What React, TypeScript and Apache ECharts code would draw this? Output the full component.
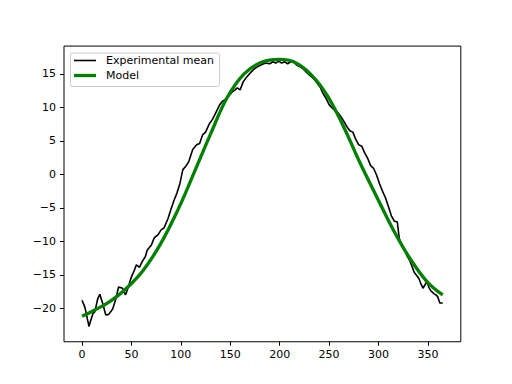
import React, { useEffect, useRef } from "react";
import * as echarts from "echarts";

const expDays = [0,3,7,9,11,13,16,18,21,24,27,31,34,37,41,44,46,50,53,55,58,61,64,66,70,73,77,80,83,87,90,93,96,99,102,105,108,112,116,119,122,125,129,132,136,139,142,146,149,152,155,157,160,163,166,170,174,178,182,186,190,193,196,199,202,205,208,211,214,217,220,224,228,231,235,238,241,244,247,250,253,256,259,262,265,268,271,274,277,280,283,286,289,292,295,298,301,304,307,310,313,316,319,321,323,326,329,332,334,336,338,341,343,345,347,349,351,353,356,358,360,362,365];
const expValues = [-18.8,-19.9,-22.7,-21.7,-20.8,-20.5,-18.5,-17.9,-19.3,-21.0,-20.9,-20.1,-18.7,-16.8,-17.0,-18.0,-17.2,-15.3,-14.3,-13.5,-13.9,-13.0,-12.3,-11.3,-10.6,-9.5,-9.0,-8.3,-8.0,-6.6,-5.2,-3.9,-2.8,-1.4,0.7,1.2,1.9,3.7,4.4,4.6,5.9,6.3,7.6,8.2,9.4,10.3,10.9,11.3,11.8,12.3,12.6,12.9,12.6,13.8,14.4,15.1,15.7,16.1,16.4,16.6,16.5,16.8,16.6,16.9,16.6,16.8,16.5,16.8,16.9,16.3,16.1,15.7,15.1,14.7,14.2,13.6,13.0,12.0,11.3,10.4,9.9,9.5,9.2,8.6,7.9,7.1,6.5,6.3,5.2,4.4,4.2,3.2,2.4,1.3,0.9,-0.1,-1.4,-2.5,-3.5,-4.8,-6.2,-7.0,-7.1,-9.6,-10.3,-11.2,-12.2,-13.0,-13.8,-14.6,-15.0,-15.6,-16.4,-17.0,-16.5,-16.0,-16.9,-17.4,-17.8,-18.0,-18.3,-19.2,-19.2];

const modelDays = [0,11,28,45,62,79,97,113,130,147,164,181,200,214,231,248,265,281,298,315,332,349,365];
const modelValues = [-21.2,-20.4,-19.0,-17.0,-14.3,-10.5,-5.3,0.1,6.0,11.5,15.0,16.7,17.15,16.8,15.0,11.8,7.0,1.8,-3.3,-8.3,-12.6,-16.0,-18.0];

const xTicks = [0,50,100,150,200,250,300,350];
const yTicks = [-20,-15,-10,-5,0,5,10,15];
const legendLabels = ["Experimental mean", "Model"];

const FONT = "DejaVu Sans";

export default function App() {
  const ref = useRef<HTMLDivElement>(null);
  useEffect(() => {
    if (!ref.current) return;
    const chart = echarts.init(ref.current, undefined, { renderer: "svg" });
    const fmt = (v: number) => (v < 0 ? "\u2212" + Math.abs(v) : String(v));
    chart.setOption({
      animation: false,
      backgroundColor: "#fff",
      grid: {
        left: 64, right: 51.2, top: 46.08, bottom: 42.24,
        show: true, borderColor: "#000", borderWidth: 1, backgroundColor: "transparent",
      },
      xAxis: {
        type: "value", min: -18.25, max: 383.25,
        splitLine: { show: false },
        axisLine: { show: false, onZero: false },
        axisTick: { show: true, inside: false, length: 4, customValues: xTicks, lineStyle: { color: "#000", width: 1 } },
        axisLabel: { show: true, margin: 7, customValues: xTicks, formatter: fmt, color: "#000", fontFamily: FONT, fontSize: 11 },
      },
      yAxis: {
        type: "value", min: -24.99, max: 19.14,
        splitLine: { show: false },
        axisLine: { show: false, onZero: false },
        axisTick: { show: true, inside: false, length: 4, customValues: yTicks, lineStyle: { color: "#000", width: 1 } },
        axisLabel: { show: true, margin: 8, customValues: yTicks, formatter: fmt, color: "#000", fontFamily: FONT, fontSize: 11 },
      },
      series: [
        {
          name: legendLabels[0], type: "line", showSymbol: false,
          data: expDays.map((d, i) => [d, expValues[i]]),
          lineStyle: { color: "#000", width: 1.6 }, z: 2,
        },
        {
          name: legendLabels[1], type: "line", showSymbol: false, smooth: 0.4,
          data: modelDays.map((d, i) => [d, modelValues[i]]),
          lineStyle: { color: "#008000", width: 3.3 }, z: 3,
        },
      ],
      graphic: [
        {
          type: "group", left: 70, top: 52.5, z: 100,
          children: [
            { type: "rect", shape: { x: 0, y: 0, width: 149, height: 33.5, r: 2 }, style: { fill: "rgba(255,255,255,0.8)", stroke: "#cccccc", lineWidth: 1 } },
            { type: "line", shape: { x1: 3.5, y1: 7.5, x2: 25.5, y2: 7.5 }, style: { stroke: "#000", lineWidth: 1.6 } },
            { type: "text", x: 35.5, y: 7.5, style: { text: legendLabels[0], font: `11px "${FONT}"`, fill: "#000", verticalAlign: "middle" } },
            { type: "line", shape: { x1: 3.5, y1: 22.5, x2: 25.5, y2: 22.5 }, style: { stroke: "#008000", lineWidth: 3.3 } },
            { type: "text", x: 35.5, y: 22.5, style: { text: legendLabels[1], font: `11px "${FONT}"`, fill: "#000", verticalAlign: "middle" } },
          ],
        },
      ],
    });
    return () => chart.dispose();
  }, []);
  return <div ref={ref} style={{ width: 512, height: 384, position: "absolute", left: 0, top: 0 }} />;
}
